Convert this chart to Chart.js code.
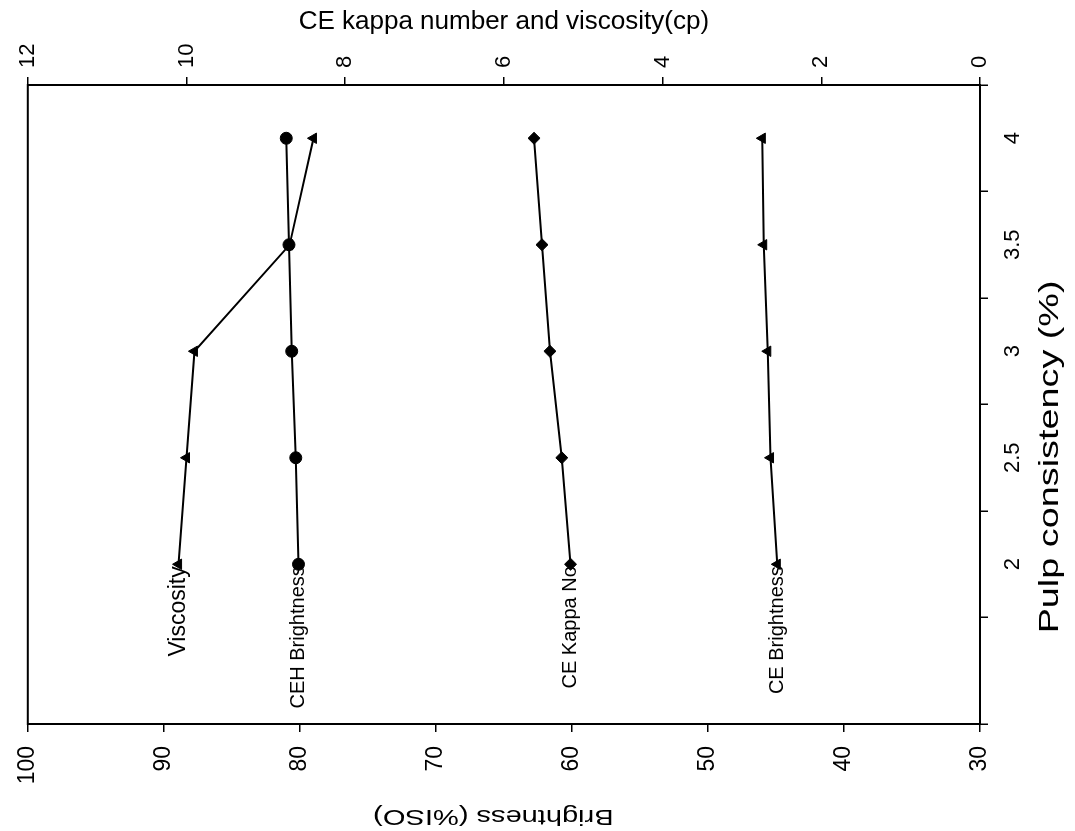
<!DOCTYPE html>
<html>
<head>
<meta charset="utf-8">
<title>Brightness, kappa number and viscosity vs pulp consistency</title>
<script src="https://cdn.jsdelivr.net/npm/chart.js@4.4.0/dist/chart.umd.min.js"></script>
<style>
  html, body { margin: 0; padding: 0; background: #fff; overflow: hidden; }
  /* the figure is printed on its side: draw it upright, then turn it */
  #wrap {
    position: absolute;
    left: 0;
    top: 0;
    width: 831px;
    height: 1075px;
    transform-origin: 0 0;
    transform: translate(0, 831px) rotate(-90deg);
  }
</style>
</head>
<body>
<div id="wrap"><canvas id="chart" width="831" height="1075"></canvas></div>
<script>
// pulp consistency (%) - first category is left empty like the original
const consistency = ['2', '2.5', '3', '3.5', '4'];
// brightness axis (%ISO)
const cehBrightness = [80.1, 80.3, 80.6, 80.8, 81.0];
const ceBrightness = [44.9, 45.4, 45.6, 45.9, 46.0];
// kappa / viscosity axis
const ceKappa = [5.16, 5.27, 5.42, 5.52, 5.62];
const viscosity = [10.1, 10.0, 9.9, 8.7, 8.4];

const family = '"Liberation Sans", Arial, Helvetica, sans-serif';
const labels = [''].concat(consistency);
const pad = (arr) => [null].concat(arr);

// the scanned titles are wider than a plain font, so stretch them a bit
const stretchedText = (ctx, text, x, y, angle, size, sx) => {
    ctx.save();
    ctx.translate(x, y);
    ctx.rotate(angle);
    ctx.scale(sx, 1);
    ctx.font = size + 'px ' + family;
    ctx.textAlign = 'center';
    ctx.textBaseline = 'middle';
    ctx.fillText(text, 0, 0);
    ctx.restore();
};

// frame round the plot, the two stretched axis titles
// and the series names written next to the first point
const frameAndNames = {
    id: 'frameAndNames',
    afterDatasetsDraw: (chart) => {
        const { ctx, chartArea } = chart;
        const w = chartArea.right - chartArea.left;
        const h = chartArea.bottom - chartArea.top;
        ctx.save();
        ctx.strokeStyle = '#000';
        ctx.lineWidth = 2;
        ctx.strokeRect(chartArea.left, chartArea.top, w, h);

        ctx.fillStyle = '#000';
        stretchedText(ctx, 'Pulp consistency (%)',
            chartArea.left + 0.418 * w, chart.height - 25, 0, 28, 1.35);
        stretchedText(ctx, 'Brightness (%ISO)',
            15, chartArea.top + 0.489 * h, -Math.PI / 2, 22, 1.32);

        ctx.textAlign = 'right';
        ctx.textBaseline = 'middle';
        chart.data.datasets.forEach((ds, i) => {
            const pt = chart.getDatasetMeta(i).data[1];
            if (!pt) return;
            ctx.font = (ds.label === 'Viscosity' ? 23 : 20) + 'px ' + family;
            ctx.fillText(ds.label, pt.x - 2, pt.y);
        });
        ctx.restore();
    }
};

const line = (label, data, axis, style) => ({
    label: label,
    data: pad(data),
    yAxisID: axis,
    borderColor: '#000',
    backgroundColor: '#000',
    borderWidth: 2,
    pointStyle: style,
    pointRadius: 6,
    pointBorderWidth: 1,
    tension: 0,
    spanGaps: false,
});

const ctx = document.getElementById('chart').getContext('2d');
new Chart(ctx, {
    type: 'line',
    data: {
        labels: labels,
        datasets: [
            line('Viscosity', viscosity, 'y2', 'triangle'),
            line('CEH Brightness', cehBrightness, 'y', 'circle'),
            line('CE Kappa No', ceKappa, 'y2', 'rectRot'),
            line('CE Brightness', ceBrightness, 'y', 'triangle'),
        ],
    },
    options: {
        responsive: false,
        animation: false,
        devicePixelRatio: 1,
        layout: { padding: { top: 22, left: 0, right: 0, bottom: 0 } },
        plugins: {
            legend: { display: false },
            tooltip: { enabled: false },
        },
        scales: {
            x: {
                type: 'category',
                offset: true,
                grid: { offset: true, drawOnChartArea: false, tickLength: 8, color: '#000', lineWidth: 1.5 },
                border: { color: '#000', width: 2 },
                ticks: { color: '#000', font: { size: 22, family: family }, padding: 12, maxRotation: 0, autoSkip: false },
                title: { display: false },
                afterFit: (s) => { s.height = 95; },
            },
            y: {
                position: 'left',
                min: 30,
                max: 100,
                grid: { drawOnChartArea: false, tickLength: 8, color: '#000', lineWidth: 1.5 },
                border: { color: '#000', width: 2 },
                ticks: { stepSize: 10, color: '#000', font: { size: 23, family: family }, padding: 14 },
                title: { display: false },
                afterFit: (s) => { s.width = 107; },
            },
            y2: {
                position: 'right',
                min: 0,
                max: 12,
                grid: { drawOnChartArea: false, tickLength: 8, color: '#000', lineWidth: 1.5 },
                border: { color: '#000', width: 2 },
                ticks: { stepSize: 2, color: '#000', font: { size: 22, family: family }, padding: 9 },
                title: {
                    display: true,
                    text: 'CE kappa number and viscosity(cp)',
                    color: '#000',
                    font: { size: 26, family: family },
                    padding: { top: 6, bottom: 0 },
                },
                afterFit: (s) => { s.width = 85; },
            },
        },
    },
    plugins: [frameAndNames],
});
</script>
</body>
</html>
